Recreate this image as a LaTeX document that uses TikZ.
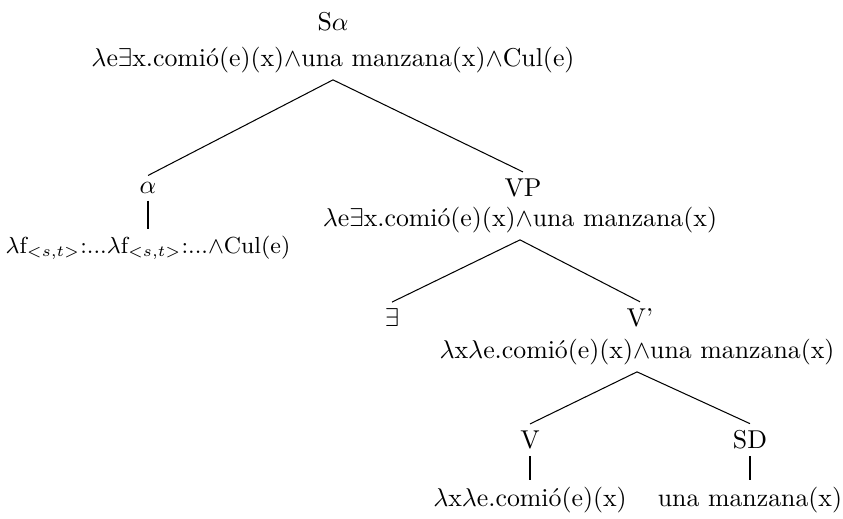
\documentclass[tikz,border=0pt]{standalone}
\usepackage{fontspec}
\usetikzlibrary{positioning}
\tikzset{
  cat/.style={inner sep=2.5pt},
  sem/.style={inner sep=2.5pt},
}
\begin{document}
\begin{tikzpicture}[x=0.3876pt,y=-0.3876pt]
\useasboundingbox (0,0) rectangle (843,518);

\node[cat] (S) at (333,22) {S$\alpha$};
\node[sem] (Ssem) at (333,60) {$\lambda$e$\exists$x.comió(e)(x)$\wedge$una manzana(x)$\wedge$Cul(e)};

\node[cat] (alpha) at (148,188) {$\alpha$};
\node[sem,font=\small] (alphasem) at (148,248) {$\lambda$f$_{<s,t>}$:...$\lambda$f$_{<s,t>}$:...$\wedge$Cul(e)};

\node[cat] (VP) at (523,188) {VP};
\node[sem] (VPsem) at (520,220) {$\lambda$e$\exists$x.comió(e)(x)$\wedge$una manzana(x)};

\node[cat] (ex) at (392,318) {$\exists$};
\node[cat] (Vbar) at (640,318) {V'};
\node[sem] (Vbarsem) at (637,352) {$\lambda$x$\lambda$e.comió(e)(x)$\wedge$una manzana(x)};

\node[cat] (V) at (530,440) {V};
\node[sem] (Vsem) at (530,500) {$\lambda$x$\lambda$e.comió(e)(x)};
\node[cat] (SD) at (750,440) {SD};
\node[sem] (SDsem) at (750,500) {una manzana(x)};

\draw (Ssem.south) -- (alpha.north);
\draw (Ssem.south) -- (VP.north);
\draw (alpha) -- (alphasem);
\draw (VPsem.south) -- (ex.north);
\draw (VPsem.south) -- (Vbar.north);
\draw (Vbarsem.south) -- (V.north);
\draw (Vbarsem.south) -- (SD.north);
\draw (V) -- (Vsem);
\draw (SD) -- (SDsem);
\end{tikzpicture}
\end{document}
